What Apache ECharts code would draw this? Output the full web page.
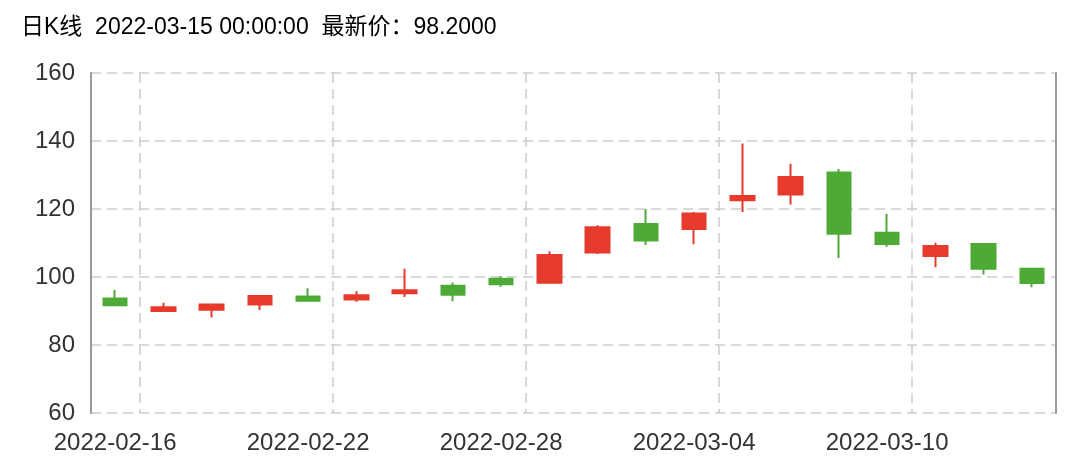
<!DOCTYPE html>
<html>
<head>
<meta charset="utf-8">
<script src="https://cdn.jsdelivr.net/npm/echarts@6/dist/echarts.min.js"></script>
<style>
  html, body { margin: 0; padding: 0; background: #fff; }
  #chart { width: 1070px; height: 468px; }
</style>
</head>
<body>
<div id="chart"></div>
<script>
const dates = ['2022-02-16','2022-02-17','2022-02-18','2022-02-21','2022-02-22','2022-02-23','2022-02-24','2022-02-25','2022-02-28','2022-03-01','2022-03-02','2022-03-03','2022-03-04','2022-03-07','2022-03-08','2022-03-09','2022-03-10','2022-03-11','2022-03-14','2022-03-15'];
const openValues  = [93.7, 90.0, 90.4, 91.9, 94.3, 93.4, 95.2, 97.4, 99.5, 98.3, 107.2, 115.6, 114.1, 122.6, 124.3, 130.7, 113.0, 106.2, 109.7, 102.4];
const closeValues = [91.7, 91.1, 91.9, 94.4, 93.0, 94.6, 96.1, 94.8, 97.9, 106.5, 114.6, 110.7, 118.7, 123.8, 129.4, 112.7, 109.7, 109.1, 102.4, 98.2];
const lowValues   = [91.7, 89.8, 88.1, 90.3, 92.8, 92.7, 94.1, 92.9, 97.1, 98.3, 106.8, 109.4, 109.6, 119.1, 121.3, 105.6, 108.9, 102.9, 100.7, 97.0];
const highValues  = [96.2, 92.4, 92.1, 94.4, 96.7, 95.8, 102.4, 98.4, 100.2, 107.6, 115.2, 120.0, 119.1, 139.3, 133.3, 131.8, 118.5, 110.1, 109.7, 102.6];
const titleText = '日K线  2022-03-15 00:00:00  最新价：98.2000';

const kData = dates.map((d, i) => [openValues[i], closeValues[i], lowValues[i], highValues[i]]);

const chart = echarts.init(document.getElementById('chart'), null, { renderer: 'canvas' });
const font = '"Liberation Sans", Arial, "Noto Sans CJK SC", sans-serif';
chart.setOption({
  animation: false,
  backgroundColor: '#fff',
  title: {
    text: titleText,
    left: 16,
    top: 11,
    textStyle: { fontSize: 23, fontWeight: 'normal', color: '#000', fontFamily: font }
  },
  grid: { left: 91, right: 14, top: 73, bottom: 55 },
  xAxis: {
    type: 'category',
    data: dates,
    boundaryGap: true,
    axisLine: { show: false },
    axisTick: { show: false },
    axisLabel: { interval: 3, color: '#333', fontSize: 24, fontFamily: font, margin: 18 },
    splitLine: {
      show: true,
      interval: (idx) => idx % 4 === 1,
      lineStyle: { color: '#cccccc', type: [10, 6], width: 1.5 }
    }
  },
  yAxis: [{
    type: 'value',
    min: 60, max: 160, interval: 20,
    axisLine: { show: true, lineStyle: { color: '#999', width: 2 } },
    axisTick: { show: false },
    axisLabel: { color: '#333', fontSize: 24, fontFamily: font, margin: 16 },
    splitLine: { show: true, lineStyle: { color: '#cccccc', type: [10, 6], width: 1.5 } }
  }, {
    type: 'value',
    position: 'right',
    min: 60, max: 160, interval: 20,
    axisLine: { show: true, lineStyle: { color: '#999', width: 2 } },
    axisTick: { show: false },
    axisLabel: { show: false },
    splitLine: { show: false }
  }],
  series: [{
    type: 'candlestick',
    data: kData,
    barWidth: 24,
    itemStyle: {
      color: '#e63a2d',
      color0: '#4eaa36',
      borderColor: '#e63a2d',
      borderColor0: '#4eaa36',
      borderWidth: 2
    }
  }]
});
</script>
</body>
</html>
